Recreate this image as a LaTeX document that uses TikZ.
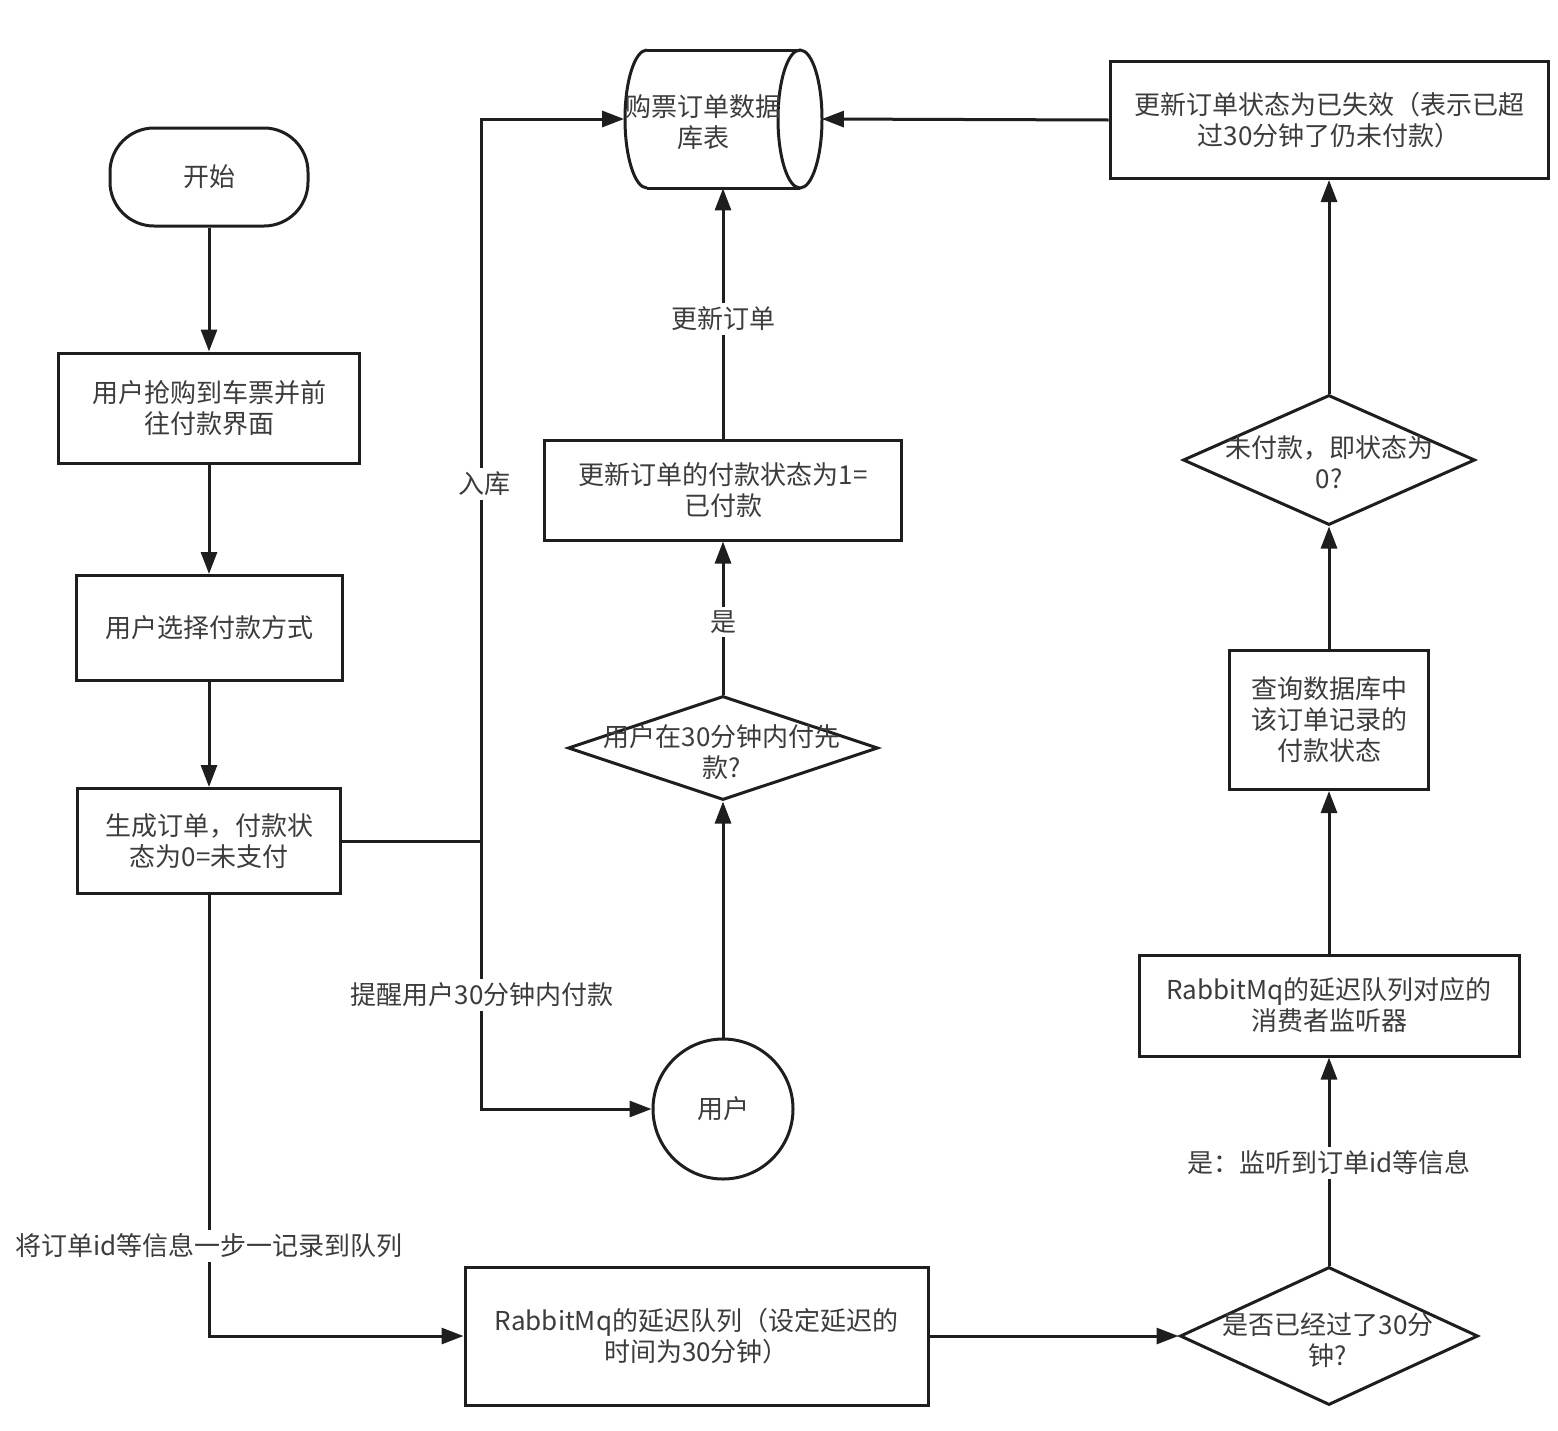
\documentclass[tikz,border=0pt]{standalone}
\usepackage{fontspec}
\newfontfamily\cjk{Noto Sans CJK SC}
\usetikzlibrary{arrows.meta,shapes.geometric}
\definecolor{txt}{RGB}{60,60,60}
\definecolor{ln}{RGB}{30,30,30}
\begin{document}
\begin{tikzpicture}[x=0.5pt,y=-0.5pt,
  every node/.style={font=\cjk\fontsize{13}{15.5}\selectfont, text=txt, align=center, inner sep=1pt},
  box/.style={draw=ln, line width=1.5pt, rectangle},
  dia/.style={draw=ln, line width=1.5pt, diamond, inner sep=0pt},
  arr/.style={draw=ln, line width=1.5pt, -{Triangle[length=11pt,width=8pt]}},
  conn/.style={draw=ln, line width=1.5pt},
  lbl/.style={fill=white, inner sep=2pt}]
\useasboundingbox (0,0) rectangle (1558,1430);
\fill[white] (0,0) rectangle (1558,1430);

% left column
\node[box, rounded corners=22pt, minimum width=99pt, minimum height=49pt] (start) at (209,177) {开始};
\node[box, minimum width=150.5pt, minimum height=55pt] (b1) at (209,408) {用户抢购到车票并前\\往付款界面};
\node[box, minimum width=133pt, minimum height=52.5pt] (b2) at (209,628) {用户选择付款方式};
\node[box, minimum width=131.5pt, minimum height=52.5pt] (b3) at (209,841) {生成订单，付款状\\态为0=未支付};

% database cylinder
\node[minimum width=98.5pt, minimum height=69pt, inner sep=0pt] (db) at (723,119) {};
\draw[conn] (647,50) -- (800,50);
\draw[conn] (647,188) -- (800,188);
\draw[conn] (647,50) arc[start angle=270, end angle=90, x radius=22, y radius=69];
\draw[conn] (800,119) ellipse[x radius=22, y radius=69];
\node (dbt) at (703,122) {购票订单数据\\库表};

% middle column
\node[box, minimum width=178.5pt, minimum height=50pt] (u1) at (723,490) {更新订单的付款状态为1=\\已付款};
\node[dia, minimum width=155pt, minimum height=52pt] (d1) at (723,748) {};
\node at (722,752) {用户在30分钟内付先\\款?};
\node[draw=ln, line width=1.5pt, circle, minimum size=70pt, inner sep=0pt] (user) at (723,1109) {用户};
\node[box, minimum width=231.5pt, minimum height=69pt] (q) at (696.5,1336) {RabbitMq的延迟队列（设定延迟的\\时间为30分钟）};

% right column
\node[box, minimum width=219pt, minimum height=58.5pt] (tr) at (1329,120) {更新订单状态为已失效（表示已超\\过30分钟了仍未付款）};
\node[dia, minimum width=146pt, minimum height=65pt] (d0) at (1329,460) {};
\node at (1329,462) {未付款，即状态为\\0?};
\node[box, minimum width=99.5pt, minimum height=69.5pt] (qry) at (1329,720) {查询数据库中\\该订单记录的\\付款状态};
\node[box, minimum width=190pt, minimum height=50.5pt] (cons) at (1329,1005.5) {RabbitMq的延迟队列对应的\\消费者监听器};
\node[dia, minimum width=149pt, minimum height=69pt] (d30) at (1329,1336) {};
\node at (1328,1340) {是否已经过了30分\\钟?};

% connectors
\draw[arr] (start) -- (b1);
\draw[arr] (b1) -- (b2);
\draw[arr] (b2) -- (b3);
\coordinate (j) at (481,841);
\draw[conn] (b3.east) -- (j);
\draw[arr] (j) |- (db.west);
\draw[arr] (j) |- (user.west);
\draw[arr] (b3.south) |- (q.west);
\draw[arr] (user.north) -- (d1.south);
\draw[arr] (d1.north) -- (u1.south);
\draw[arr] (u1.north) -- (db.south);
\draw[arr] (tr.west) -- (db.east);
\draw[arr] (q.east) -- (d30.west);
\draw[arr] (d30.north) -- (cons.south);
\draw[arr] (cons.north) -- (qry.south);
\draw[arr] (qry.north) -- (d0.south);
\draw[arr] (d0.north) -- (tr.south);

% labels
\node[lbl] (l1) at (484,484) {入库};
\node[lbl] (l2) at (482,995) {提醒用户30分钟内付款};
\node[lbl] (l3) at (209,1246) {将订单id等信息一步一记录到队列};
\node[lbl] (l4) at (723,622) {是};
\node[lbl] (l5) at (723,319) {更新订单};
\node[lbl] (l6) at (1329,1163) {是：监听到订单id等信息};
\end{tikzpicture}
\end{document}
